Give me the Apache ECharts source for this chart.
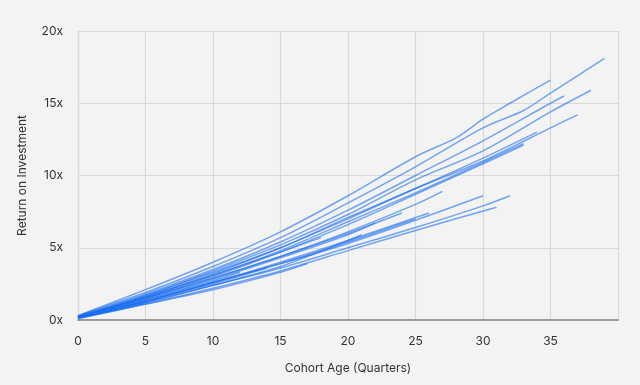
<!DOCTYPE html>
<html>
<head>
<meta charset="utf-8">
<script src="https://cdn.jsdelivr.net/npm/echarts@6/dist/echarts.min.js"></script>
<style>
  html, body { margin: 0; padding: 0; background: #f3f3f3; }
  #chart { width: 640px; height: 385px; }
</style>
</head>
<body>
<div id="chart"></div>
<script>
// Axis ticks
const xTicks = [0, 5, 10, 15, 20, 25, 30, 35];
const yTicks = [0, 5, 10, 15, 20];

// Cohort ROI curves: [cohort age in quarters, return multiple]
const cohort01 = [[0,0.3],[5,2.1],[10,4.0],[15,6.1],[20,8.6],[25,11.3],[28,12.6],[30,13.9],[32,15.0],[35,16.6]];
const cohort02 = [[0,0.3],[5,1.9],[10,3.7],[15,5.7],[20,8.1],[25,10.6],[30,13.3],[33,14.5],[35,15.7],[39,18.1]];
const cohort03 = [[0,0.25],[5,1.8],[10,3.5],[15,5.4],[20,7.6],[25,10.0],[30,12.4],[35,15.0],[36,15.5]];
const cohort04 = [[0,0.25],[5,1.7],[10,3.4],[15,5.2],[20,7.3],[25,9.7],[30,11.7],[35,14.4],[38,15.9]];
const cohort05 = [[0,0.2],[5,1.6],[10,3.2],[15,5.0],[20,7.0],[25,9.1],[30,11.0],[35,13.3],[37,14.2]];
const cohort06 = [[0,0.2],[5,1.7],[10,3.3],[15,5.0],[20,7.1],[25,9.1],[30,11.2],[34,13.0]];
const cohort07 = [[0,0.2],[5,1.6],[10,3.1],[15,4.8],[20,6.8],[25,8.8],[30,10.9],[33,12.2]];
const cohort08 = [[0,0.2],[5,1.5],[10,3.0],[15,4.7],[20,6.6],[25,8.7],[30,10.8],[33,12.1]];
const cohort09 = [[0,0.2],[5,1.5],[10,2.9],[15,4.4],[20,6.1],[25,8.0],[27,8.9]];
const cohort10 = [[0,0.15],[5,1.3],[10,2.6],[15,3.9],[20,5.3],[25,6.9],[30,8.6]];
const cohort11 = [[0,0.15],[5,1.2],[10,2.4],[15,3.6],[20,5.0],[25,6.4],[30,7.9],[32,8.6]];
const cohort12 = [[0,0.1],[5,1.1],[10,2.2],[15,3.4],[20,4.8],[25,6.2],[31,7.8]];
const cohort13 = [[0,0.2],[5,1.5],[10,2.9],[15,4.4],[20,6.0],[24,7.4]];
const cohort14 = [[0,0.15],[5,1.3],[10,2.6],[15,4.0],[20,5.5],[26,7.4]];
const cohort15 = [[0,0.2],[5,1.4],[10,2.8],[15,4.3],[20,5.9],[22,6.7]];
const cohort16 = [[0,0.15],[5,1.3],[10,2.6],[15,3.9],[20,5.4],[25,7.0]];
const cohort17 = [[0,0.1],[5,1.1],[10,2.1],[15,3.3],[17,3.9]];
const cohort18 = [[0,0.15],[5,1.2],[10,2.4],[15,3.7],[20,5.5],[21,5.9]];
const cohort19 = [[0,0.2],[5,1.4],[10,2.7],[12,3.3]];
const cohort20 = [[0,0.2],[5,1.6],[10,3.1],[15,4.7],[18,5.7]];
const cohort21 = [[0,0.15],[5,1.3],[10,2.5],[14,3.6]];

const cohorts = [cohort01, cohort02, cohort03, cohort04, cohort05, cohort06, cohort07,
  cohort08, cohort09, cohort10, cohort11, cohort12, cohort13, cohort14, cohort15,
  cohort16, cohort17, cohort18, cohort19, cohort20, cohort21];

const chart = echarts.init(document.getElementById('chart'), null, { renderer: 'canvas' });
const font = 'Inter, "Noto Sans", sans-serif';

chart.setOption({
  backgroundColor: '#f3f3f3',
  animation: false,
  grid: { left: 78, right: 22, top: 31, bottom: 65, containLabel: false },
  xAxis: {
    type: 'value',
    min: 0, max: 40, interval: 5,
    name: 'Cohort Age (Quarters)',
    nameLocation: 'middle',
    nameGap: 42,
    nameTextStyle: { color: '#333', fontSize: 12, fontFamily: font },
    axisLine: { show: true, lineStyle: { color: '#9a9a9a', width: 2 } },
    axisTick: { show: false },
    axisLabel: {
      color: '#333', fontSize: 12, fontFamily: font, margin: 15,
      formatter: v => xTicks.indexOf(v) >= 0 ? String(v) : ''
    },
    splitLine: { show: true, lineStyle: { color: '#d9d9d9', width: 1.2 } }
  },
  yAxis: {
    type: 'value',
    min: 0, max: 20, interval: 5,
    name: 'Return on Investment',
    nameLocation: 'middle',
    nameGap: 50,
    nameRotate: 90,
    nameTextStyle: { color: '#333', fontSize: 12, fontFamily: font },
    axisLine: { show: true, lineStyle: { color: '#d9d9d9', width: 1.2 } },
    axisTick: { show: false },
    axisLabel: {
      color: '#333', fontSize: 12, fontFamily: font, margin: 15,
      formatter: v => yTicks.indexOf(v) >= 0 ? v + 'x' : ''
    },
    splitLine: { show: true, lineStyle: { color: '#d9d9d9', width: 1.2 } }
  },
  series: cohorts.map((c, i) => ({
    type: 'line',
    name: 'Cohort ' + (i + 1),
    data: c,
    showSymbol: false,
    symbol: 'none',
    smooth: 0.3,
    lineStyle: { color: '#1a6ef0', width: 1.5, opacity: 0.6 },
    emphasis: { disabled: true },
    z: 3
  }))
});
</script>
</body>
</html>
